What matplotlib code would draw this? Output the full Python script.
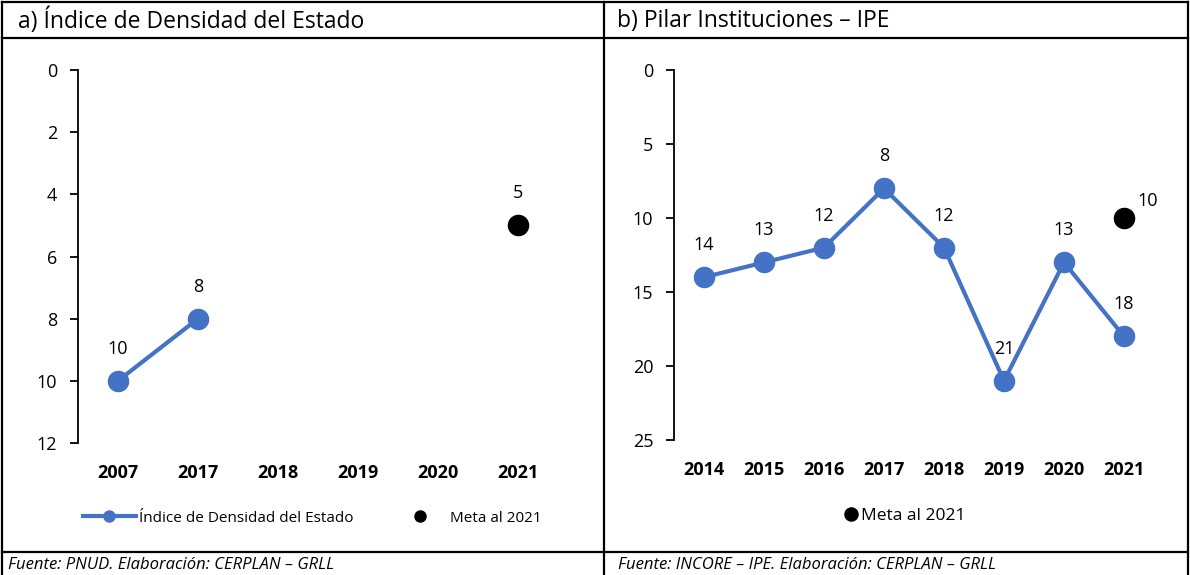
import numpy as np
import matplotlib.pyplot as plt
from matplotlib.lines import Line2D

plt.rcParams['font.family'] = ['Open Sans', 'DejaVu Sans']

# panel a
years_a = ['2007', '2017', '2018', '2019', '2020', '2021']
dens = [10, 8, np.nan, np.nan, np.nan, np.nan]
meta_a = 5
# panel b
years_b = ['2014', '2015', '2016', '2017', '2018', '2019', '2020', '2021']
ipe = [14, 13, 12, 8, 12, 21, 13, 18]
meta_b = 10

blue = '#4472C4'
W, H = 1190, 575
fig = plt.figure(figsize=(W / 100, H / 100), dpi=100)

def fx(px):
    return px / W

def fy(py):
    return 1 - py / H

# table frame
for x0, y0, x1, y1 in [(2, 2, 1188, 2), (2, 38, 1188, 38), (2, 552, 1188, 552),
                       (2, 2, 2, 575), (604, 2, 604, 575), (1188, 2, 1188, 575)]:
    fig.add_artist(Line2D([fx(x0), fx(x1)], [fy(y0), fy(y1)], color='black', lw=1.6))

fig.text(fx(18), fy(21), 'a) Índice de Densidad del Estado', fontsize=16.5, va='center')
fig.text(fx(617), fy(21), 'b) Pilar Instituciones – IPE', fontsize=16.5, va='center')
fig.text(fx(8), fy(565), 'Fuente: PNUD. Elaboración: CERPLAN – GRLL', fontsize=12, style='italic', va='center')
fig.text(fx(618), fy(565), 'Fuente: INCORE – IPE. Elaboración: CERPLAN – GRLL', fontsize=12, style='italic', va='center')

def setup(ax, cats, ymax, step):
    ax.set_xlim(-0.5, len(cats) - 0.5)
    ax.set_ylim(ymax, 0)
    ax.set_yticks(np.arange(0, ymax + 1, step))
    ax.set_xticks(range(len(cats)))
    ax.set_xticklabels(cats, fontweight='bold', fontsize=13)
    for s in ['top', 'right', 'bottom']:
        ax.spines[s].set_visible(False)
    ax.spines['left'].set_linewidth(1.3)
    ax.tick_params(axis='x', length=0, pad=15)
    ax.tick_params(axis='y', length=6, width=1.3, labelsize=13, pad=9)
    ax.patch.set_alpha(0)

# ---- a
ax1 = fig.add_axes([fx(78), fy(443), fx(480), 373 / H])
setup(ax1, years_a, 12, 2)
x_a = np.arange(len(years_a))
ax1.plot(x_a, dens, color=blue, lw=3, marker='o', ms=14.5, label='Índice de Densidad del Estado')
ax1.plot([x_a[-1]], [meta_a], 'o', color='black', ms=14.5, label='Meta al 2021')
for x, v in zip(x_a, dens):
    if not np.isnan(v):
        ax1.annotate(f'{v:.0f}', (x, v), xytext=(0, 23), textcoords='offset points',
                     ha='center', va='center', fontsize=13)
ax1.annotate(f'{meta_a}', (x_a[-1], meta_a), xytext=(0, 23), textcoords='offset points',
             ha='center', va='center', fontsize=13)
ax1.legend(loc='center', bbox_to_anchor=((312 - 78) / 480, (443 - 518) / 373),
           ncol=2, frameon=False, fontsize=11, markerscale=0.55,
           handlelength=3.5, handletextpad=0.2, columnspacing=2.6)

# ---- b
ax2 = fig.add_axes([fx(674), fy(440), fx(480), 370 / H])
setup(ax2, years_b, 25, 5)
x_b = np.arange(len(years_b))
ax2.plot(x_b, ipe, color=blue, lw=3, marker='o', ms=14.5)
ax2.plot([x_b[-1]], [meta_b], 'o', color='black', ms=14.5, label='Meta al 2021')
for x, v in zip(x_b, ipe):
    ax2.annotate(f'{v}', (x, v), xytext=(0, 23), textcoords='offset points',
                 ha='center', va='center', fontsize=13)
ax2.annotate(f'{meta_b}', (x_b[-1], meta_b), xytext=(17, 12), textcoords='offset points',
             ha='center', va='center', fontsize=13)
ax2.legend(loc='center', bbox_to_anchor=((906 - 674) / 480, (440 - 516) / 370),
           frameon=False, fontsize=12.5, markerscale=0.65, handlelength=0.5, handletextpad=0.3)

fig.savefig('out.png', dpi=100)
